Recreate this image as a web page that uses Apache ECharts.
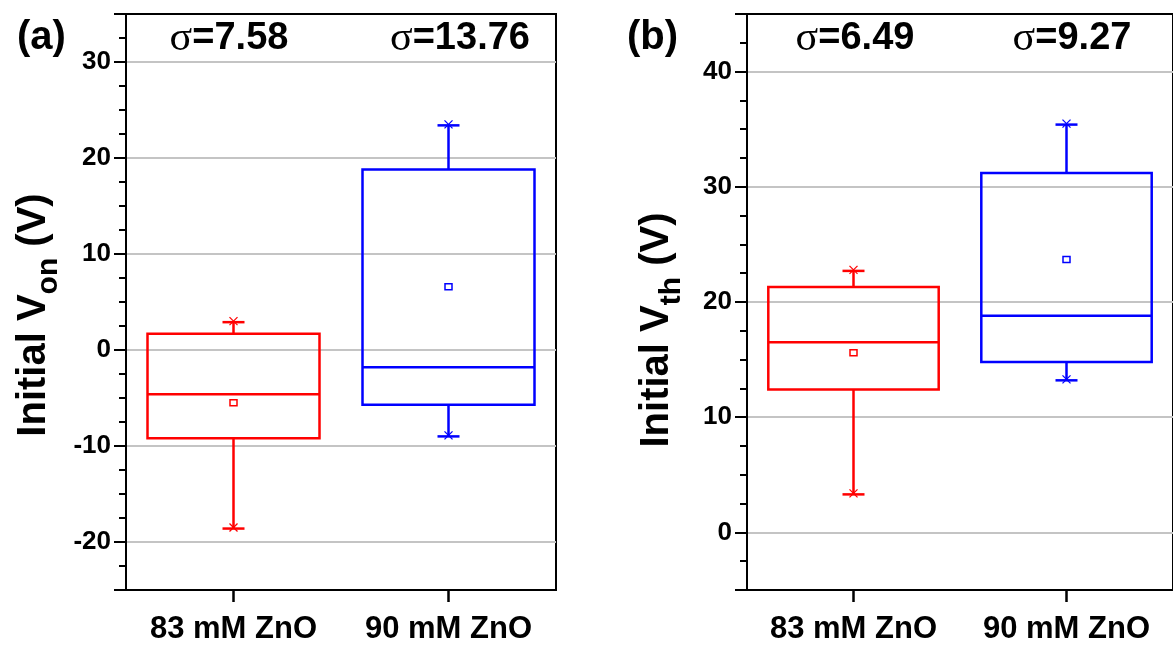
<!DOCTYPE html>
<html>
<head>
<meta charset="utf-8">
<script src="https://cdn.jsdelivr.net/npm/echarts@6/dist/echarts.min.js"></script>
<style>
  html, body { margin: 0; padding: 0; background: #fff; }
  #chart { width: 1173px; height: 646px; }
</style>
</head>
<body>
<div id="chart"></div>
<script>
const categories = ['83 mM ZnO', '90 mM ZnO'];
// box stats: [min, Q1, median, Q3, max]
const vonBoxes = [[-18.6, -9.2, -4.6, 1.7, 2.9], [-9.0, -5.7, -1.8, 18.8, 23.4]];
const vonMeans = [-5.5, 6.6];
const vonSigma = ['7.58', '13.76'];
const vthBoxes = [[3.3, 12.4, 16.5, 21.3, 22.7], [13.2, 14.8, 18.8, 31.2, 35.4]];
const vthMeans = [15.6, 23.7];
const vthSigma = ['6.49', '9.27'];

const boxColors = ['#ff0000', '#0000ff'];
const FONT = '"Liberation Sans", Arial, sans-serif';

let chart = echarts.init(document.getElementById('chart'));

function renderBox(params, api) {
  const i = api.value(0);
  const color = boxColors[params.dataIndex];
  const lo = api.coord([i, api.value(1)]);
  const q1 = api.coord([i, api.value(2)]);
  const med = api.coord([i, api.value(3)]);
  const q3 = api.coord([i, api.value(4)]);
  const hi = api.coord([i, api.value(5)]);
  const mean = api.coord([i, api.value(6)]);
  const x = lo[0];
  const half = api.size([1, 0])[0] * 0.4;
  const cap = 11;
  const ln = { stroke: color, lineWidth: 2.5, fill: null };
  const thin = { stroke: color, lineWidth: 1.3 };
  const cross = (y) => [
    { type: 'line', shape: { x1: x - 4, y1: y - 5, x2: x + 4, y2: y + 3 }, style: thin },
    { type: 'line', shape: { x1: x + 4, y1: y - 5, x2: x - 4, y2: y + 3 }, style: thin }
  ];
  return {
    type: 'group',
    children: [
      { type: 'line', shape: { x1: x, y1: hi[1], x2: x, y2: q3[1] }, style: ln },
      { type: 'line', shape: { x1: x, y1: q1[1], x2: x, y2: lo[1] }, style: ln },
      { type: 'line', shape: { x1: x - cap, y1: hi[1], x2: x + cap, y2: hi[1] }, style: ln },
      { type: 'line', shape: { x1: x - cap, y1: lo[1], x2: x + cap, y2: lo[1] }, style: ln },
      ...cross(hi[1]),
      ...cross(lo[1]),
      { type: 'rect', shape: { x: x - half, y: q3[1], width: half * 2, height: q1[1] - q3[1] }, style: ln },
      { type: 'line', shape: { x1: x - half, y1: med[1], x2: x + half, y2: med[1] }, style: ln },
      { type: 'rect', shape: { x: mean[0] - 3.5, y: mean[1] - 3, width: 7, height: 6 },
        style: { stroke: color, lineWidth: 1.5, fill: '#fff' } }
    ]
  };
}

function boxData(boxes, means) {
  return boxes.map((b, i) => [i, ...b, means[i]]);
}

function xAxisFor(gridIndex) {
  return {
    gridIndex: gridIndex,
    type: 'category',
    data: categories,
    axisLine: { show: true, onZero: false, lineStyle: { color: '#000', width: 2 } },
    axisTick: { show: true, alignWithLabel: true, interval: 0, length: 12, lineStyle: { color: '#000', width: 2.5 } },
    axisLabel: { interval: 0, hideOverlap: false, color: '#000', fontSize: 31, fontWeight: 'bold', fontFamily: FONT, margin: 24 },
    splitLine: { show: false }
  };
}

function yAxisFor(gridIndex, min, max, sub, gap, shift) {
  return {
    gridIndex: gridIndex,
    type: 'value',
    min: min,
    max: max,
    splitNumber: (max - min) / 10,
    name: '{t|Initial V}{s|' + sub + '}{t| (V)}',
    nameLocation: 'middle',
    nameGap: gap,
    nameRotate: 90,
    nameTextStyle: {
      padding: [0, shift, 0, 0],
      rich: {
        t: { fontSize: 40, fontWeight: 'bold', fontFamily: FONT, color: '#000', lineHeight: 50, verticalAlign: 'top' },
        s: { fontSize: 30, fontWeight: 'bold', fontFamily: FONT, color: '#000', lineHeight: 28, verticalAlign: 'bottom' }
      }
    },
    axisLine: { show: true, lineStyle: { color: '#000', width: 2 } },
    axisTick: { show: true, length: 12, lineStyle: { color: '#000', width: 2 } },
    minorTick: { show: true, splitNumber: 4, length: 7, lineStyle: { color: '#000', width: 2 } },
    axisLabel: { color: '#000', fontSize: 26, fontWeight: 'bold', fontFamily: FONT, margin: 15,
      showMinLabel: false, showMaxLabel: false },
    splitLine: { show: true, showMinLine: false, showMaxLine: false,
      lineStyle: { color: '#c4c4c4', width: 2 } }
  };
}

function sigmaText(x, value) {
  return {
    type: 'text',
    x: x,
    y: 39,
    style: {
      text: '{s|σ}{n|=' + value + '}',
      align: 'center',
      verticalAlign: 'middle',
      rich: {
        s: { fontSize: 42, fontFamily: '"Liberation Serif", "Times New Roman", serif', fill: '#000' },
        n: { fontSize: 38, fontWeight: 'bold', fontFamily: FONT, fill: '#000' }
      }
    },
    z: 10
  };
}

let option = {
  animation: false,
  grid: [
    { left: 126, top: 14, width: 430, height: 576, show: true, borderColor: '#000', borderWidth: 2 },
    { left: 747, top: 14, width: 434, height: 576, show: true, borderColor: '#000', borderWidth: 2 }
  ],
  xAxis: [xAxisFor(0), xAxisFor(1)],
  yAxis: [yAxisFor(0, -25, 35, 'on', 62, 26), yAxisFor(1, -5, 45, 'th', 60, 56)],
  graphic: [
    { type: 'text', x: 17, y: 18, style: { text: '(a)', fontSize: 40, fontWeight: 'bold', fontFamily: FONT, fill: '#000' } },
    { type: 'text', x: 627, y: 18, style: { text: '(b)', fontSize: 40, fontWeight: 'bold', fontFamily: FONT, fill: '#000' } },
    sigmaText(229, vonSigma[0]),
    sigmaText(460, vonSigma[1]),
    sigmaText(855, vthSigma[0]),
    sigmaText(1072, vthSigma[1])
  ],
  series: [
    {
      type: 'custom',
      xAxisIndex: 0,
      yAxisIndex: 0,
      renderItem: renderBox,
      encode: { x: 0, y: [1, 2, 3, 4, 5, 6] },
      data: boxData(vonBoxes, vonMeans),
      z: 5
    },
    {
      type: 'custom',
      xAxisIndex: 1,
      yAxisIndex: 1,
      renderItem: renderBox,
      encode: { x: 0, y: [1, 2, 3, 4, 5, 6] },
      data: boxData(vthBoxes, vthMeans),
      z: 5
    }
  ]
};

option && chart.setOption(option);
</script>
</body>
</html>
